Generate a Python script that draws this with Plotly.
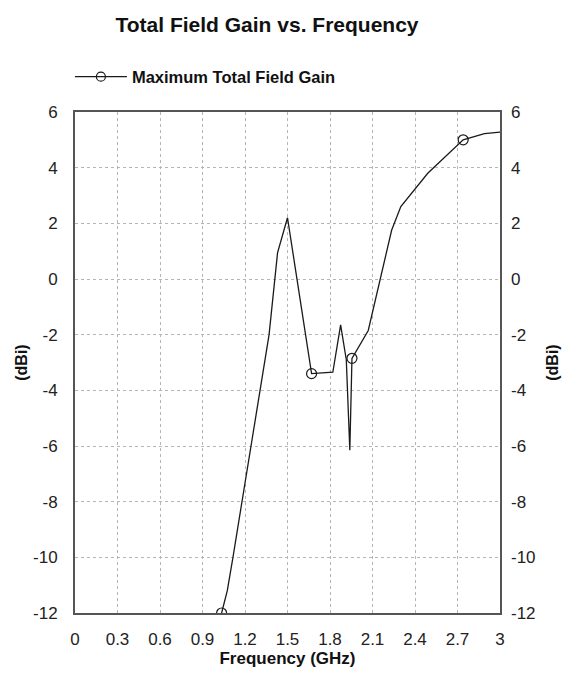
import plotly.graph_objects as go

# Data
freq_ghz = [1.035, 1.075, 1.115, 1.37, 1.43, 1.5, 1.67,
            1.82, 1.875, 1.915, 1.94, 1.955, 2.07, 2.16, 2.235, 2.3, 2.49,
            2.74, 2.89, 3.0]
gain_dbi = [-12, -11.2, -10, -2, 0.95, 2.2, -3.4,
            -3.35, -1.65, -2.9, -6.15, -2.85, -1.85, 0.1, 1.75, 2.6, 3.8,
            5.0, 5.22, 5.28]
marker_freq = [1.035, 1.67, 1.955, 2.74]
marker_gain = [-12, -3.4, -2.85, 5.0]
x_ticks = [0, 0.3, 0.6, 0.9, 1.2, 1.5, 1.8, 2.1, 2.4, 2.7, 3]
x_tick_labels = ["0", "0.3", "0.6", "0.9", "1.2", "1.5", "1.8", "2.1", "2.4", "2.7", "3"]
y_ticks = [-12, -10, -8, -6, -4, -2, 0, 2, 4, 6]
y_tick_labels = ["-12", "-10", "-8", "-6", "-4", "-2", "0", "2", "4", "6"]
series_name = "Maximum Total Field Gain"

LINE = "#1a1a1a"
FONT = "Liberation Sans, Arial, sans-serif"

fig = go.Figure()
fig.add_trace(go.Scatter(x=freq_ghz, y=gain_dbi, mode="lines",
                         line=dict(color=LINE, width=1.3), showlegend=False,
                         hoverinfo="skip"))
fig.add_trace(go.Scatter(x=marker_freq, y=marker_gain, mode="markers",
                         marker=dict(symbol="circle-open", size=10,
                                     color=LINE, line=dict(width=1.2, color=LINE)),
                         showlegend=False))
# legend entry (line with circle)
fig.add_trace(go.Scatter(x=[None], y=[None], mode="lines+markers",
                         name="<b>" + series_name + "</b>",
                         line=dict(color=LINE, width=1.3),
                         marker=dict(symbol="circle-open", size=9, color=LINE,
                                     line=dict(width=1.2, color=LINE))))
# invisible trace for right axis
fig.add_trace(go.Scatter(x=[None], y=[None], yaxis="y2", showlegend=False))

tickfont = dict(family=FONT, size=17, color="#222222")
grid = dict(showgrid=True, gridcolor="#b5b5b5", griddash="dot", gridwidth=1,
            showline=True, linecolor="#555555", linewidth=2, zeroline=False,
            ticks="", tickfont=tickfont)

fig.update_layout(
    width=563, height=673,
    margin=dict(l=75, r=63, t=112, b=60, autoexpand=False),
    paper_bgcolor="white", plot_bgcolor="white",
    title=dict(text="<b>Total Field Gain vs. Frequency</b>", x=267 / 563, xanchor="center",
               xref="container", yref="container",
               y=1 - 25 / 673, yanchor="middle",
               font=dict(family=FONT, size=21, color="#111111")),
    legend=dict(x=-0.012, y=1.07, xanchor="left", yanchor="middle",
                itemwidth=52,
                bgcolor="rgba(0,0,0,0)",
                font=dict(family=FONT, size=16.5, color="#111111")),
    xaxis=dict(range=[0, 3], tickvals=x_ticks, ticktext=x_tick_labels,
               mirror=True, ticklabelstandoff=10,
               title=dict(text="<b>Frequency (GHz)</b>", standoff=3,
                          font=dict(family=FONT, size=17, color="#111111")),
               **grid),
    yaxis=dict(range=[-12, 6], tickvals=y_ticks, ticktext=y_tick_labels,
               mirror=True, ticklabelstandoff=12,
               title=dict(text="<b>(dBi)</b>", standoff=1,
                          font=dict(family=FONT, size=16, color="#111111")),
               **grid),
    yaxis2=dict(range=[-12, 6], tickvals=y_ticks, ticktext=y_tick_labels,
                overlaying="y", side="right",
                showgrid=False, zeroline=False, showline=False, ticks="",
                ticklabelstandoff=10, tickfont=tickfont,
                title=dict(text="<b>(dBi)</b>", standoff=12,
                           font=dict(family=FONT, size=16, color="#111111"))),
)
fig.write_html("out.html")
